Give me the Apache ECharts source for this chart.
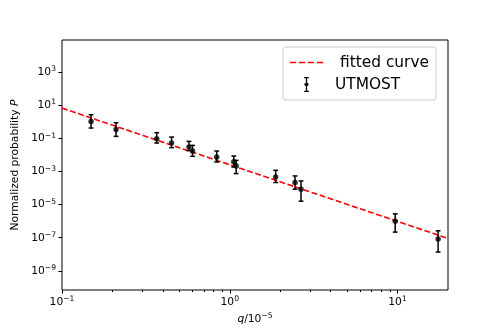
<!DOCTYPE html>
<html>
<head>
<meta charset="utf-8">
<script src="https://cdn.jsdelivr.net/npm/echarts@6/dist/echarts.min.js"></script>
<style>
  html, body { margin: 0; padding: 0; background: #fff; }
  #chart { width: 498px; height: 332px; }
</style>
</head>
<body>
<div id="chart"></div>
<script>
const qValues = [0.149, 0.210, 0.367, 0.450, 0.571, 0.600, 0.836, 1.057, 1.092, 1.878, 2.45, 2.66, 9.69, 17.46]
const pValues = [1.08, 0.356, 0.098, 0.0532, 0.0305, 0.0175, 0.0076, 0.0039, 0.00215, 4.74e-4, 2.18e-4, 8.6e-5, 1.01e-6, 8.3e-8]
const pLow = [0.43, 0.135, 0.0532, 0.0281, 0.0185, 0.0084, 0.0038, 0.0019, 0.00076, 2.18e-4, 8.6e-5, 1.62e-5, 2.19e-7, 1.36e-8]
const pHigh = [2.75, 0.905, 0.225, 0.1225, 0.0674, 0.0387, 0.0175, 0.00875, 0.0048, 1.2e-3, 5.45e-4, 2.72e-4, 2.78e-6, 2.62e-7]

// fitted straight line in log-log (end points)
const fitQ = [0.1, 20]
const fitP = [6.9, 9.1e-8]

// axis ticks
const xMajorTicks = [0.1, 1, 10]
const xMinorTicks = [0.2, 0.3, 0.4, 0.5, 0.6, 0.7, 0.8, 0.9, 2, 3, 4, 5, 6, 7, 8, 9]
const yTicks = [1e-9, 1e-7, 1e-5, 1e-3, 1e-1, 1e1, 1e3]
const xRange = [0.1, 20]
const yRange = [6.9e-11, 9.1e4]

const lg = Math.log10
const FONT = 'DejaVu Sans'
const supRich = {
  b: { fontSize: 10.7, fontFamily: FONT, color: '#000' },
  s: { fontSize: 7.6, fontFamily: FONT, color: '#000', padding: [0, 0, 6, 0] }
}
function powLabel(v) {
  const e = Math.round(v)
  return '{b|10}{s|' + (e < 0 ? '\u2212' + (-e) : e) + '}'
}

const chart = echarts.init(document.getElementById('chart'))

const xBase = {
  type: 'value',
  min: lg(xRange[0]),
  max: lg(xRange[1]),
  position: 'bottom',
  axisLine: { show: false, onZero: false },
  splitLine: { show: false }
}

chart.setOption({
  animation: false,
  backgroundColor: '#fff',
  grid: {
    left: 62,
    right: 50,
    top: 40,
    bottom: 42,
    show: true,
    borderColor: '#000',
    borderWidth: 1
  },
  legend: {
    orient: 'vertical',
    left: 283,
    top: 47,
    padding: [8, 7, 8, 7],
    itemWidth: 33,
    itemHeight: 15,
    itemGap: 7,
    backgroundColor: 'rgba(255,255,255,0.8)',
    borderColor: '#cccccc',
    borderWidth: 1,
    borderRadius: 3,
    textStyle: { fontSize: 15.4, fontFamily: FONT, color: '#000' },
    data: [
      {
        name: 'fitted curve',
        icon: 'path://M0,0h5.9v1.6h-5.9zM8.5,0h5.9v1.6h-5.9zM17,0h5.9v1.6h-5.9zM25.5,0h5.9v1.6h-5.9z',
        textStyle: { padding: [0, 0, 0, 12] }
      },
      {
        name: 'UTMOST',
        icon: 'path://M0,0h5v1.4h-1.8v5.1a1.6,1.6 0 0 1 0,3.2v5.1h1.8v1.4h-5v-1.4h1.8v-5.1a1.6,1.6 0 0 1 0,-3.2v-5.1h-1.8z',
        textStyle: { padding: [0, 0, 0, 7] }
      }
    ]
  },
  xAxis: [
    Object.assign({}, xBase, {
      name: '{i|q}{n|/10}{s|\u22125}',
      nameLocation: 'middle',
      nameGap: 19,
      nameTextStyle: {
        rich: {
          i: { fontSize: 10.7, fontFamily: FONT, fontStyle: 'italic', color: '#000' },
          n: { fontSize: 10.7, fontFamily: FONT, color: '#000' },
          s: { fontSize: 7.6, fontFamily: FONT, color: '#000', padding: [0, 0, 6, 0] }
        }
      },
      axisTick: {
        show: true,
        length: 3.7,
        lineStyle: { color: '#000', width: 1 },
        customValues: xMajorTicks.map(lg)
      },
      axisLabel: {
        margin: 5,
        customValues: xMajorTicks.map(lg),
        formatter: powLabel,
        rich: supRich
      }
    }),
    Object.assign({}, xBase, {
      axisTick: {
        show: true,
        length: 2.1,
        lineStyle: { color: '#000', width: 1 },
        customValues: xMinorTicks.map(lg)
      },
      axisLabel: { show: false }
    })
  ],
  yAxis: {
    type: 'value',
    min: lg(yRange[0]),
    max: lg(yRange[1]),
    name: '{n|Normalized probability }{i|P}',
    nameLocation: 'middle',
    nameGap: 34,
    nameTextStyle: {
      rich: {
        n: { fontSize: 10.7, fontFamily: FONT, color: '#000' },
        i: { fontSize: 10.7, fontFamily: FONT, fontStyle: 'italic', color: '#000' }
      }
    },
    axisLine: { show: false, onZero: false },
    splitLine: { show: false },
    axisTick: {
      show: true,
      length: 3.7,
      lineStyle: { color: '#000', width: 1 },
      customValues: yTicks.map(lg)
    },
    axisLabel: {
      margin: 6,
      customValues: yTicks.map(lg),
      formatter: powLabel,
      rich: supRich
    }
  },
  series: [
    {
      name: 'fitted curve',
      type: 'line',
      symbol: 'none',
      z: 2,
      lineStyle: { color: '#ff0000', width: 1.6, type: [5.9, 2.6] },
      itemStyle: { color: '#ff0000' },
      data: fitQ.map((q, i) => [lg(q), lg(fitP[i])])
    },
    {
      name: 'UTMOST',
      type: 'custom',
      z: 3,
      itemStyle: { color: '#000' },
      renderItem(params, api) {
        const x = api.value(0)
        const lo = api.coord([x, api.value(1)])
        const hi = api.coord([x, api.value(2)])
        const cap = 2.4
        const st = { stroke: '#000', lineWidth: 1.5 }
        return {
          type: 'group',
          children: [
            { type: 'line', shape: { x1: lo[0], y1: lo[1], x2: hi[0], y2: hi[1] }, style: st },
            { type: 'line', shape: { x1: lo[0] - cap, y1: lo[1], x2: lo[0] + cap, y2: lo[1] }, style: st },
            { type: 'line', shape: { x1: hi[0] - cap, y1: hi[1], x2: hi[0] + cap, y2: hi[1] }, style: st }
          ]
        }
      },
      data: qValues.map((q, i) => [lg(q), lg(pLow[i]), lg(pHigh[i])])
    },
    {
      name: 'UTMOST',
      type: 'scatter',
      symbol: 'circle',
      symbolSize: 5.5,
      z: 4,
      itemStyle: { color: '#000' },
      data: qValues.map((q, i) => [lg(q), lg(pValues[i])])
    }
  ]
})
</script>
</body>
</html>
